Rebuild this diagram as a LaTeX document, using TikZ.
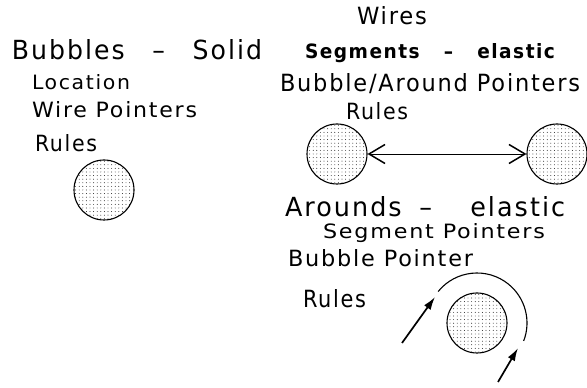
\documentclass[tikz,border=0pt]{standalone}
\usepackage{fontspec}
\setmainfont{DejaVu Sans}[LetterSpace=8]
\usepackage{graphicx}
\usetikzlibrary{arrows.meta,patterns.meta}
\newcommand\fittext[3]{\resizebox{#1pt}{#2pt}{#3}}
\begin{document}
\begin{tikzpicture}[x=1pt,y=1pt,
  lbl/.style={anchor=base west, inner sep=0pt, outer sep=0pt},
  bubble/.style={circle, draw, line width=1.1pt, minimum size=60pt, inner sep=0pt,
    pattern={Dots[distance=3.6pt, radius=0.45pt]}, pattern color=black},
  link/.style={line width=0.9pt,
    {Straight Barb[length=16pt,width=19pt,line width=1.5pt]}-{Straight Barb[length=16pt,width=19pt,line width=1.5pt]}},
  ptr/.style={line width=1.7pt, -{Latex[length=13pt,width=8pt]}},
  around/.style={line width=1.1pt}]
\fill[white] (0,0) rectangle (587,388);
\useasboundingbox (0,0) rectangle (587,388);
% texts
\node[lbl] (wires) at (357,363) {\fittext{70}{18}{Wires}};
\node[lbl] (bsolid) at (12,328) {\fittext{250}{20}{Bubbles\hspace{1.1em}–\hspace{1.1em}Solid}};
\node[lbl] (selastic) at (305,329) {\fittext{250}{15}{\bfseries Segments\hspace{1.3em}–\hspace{1.3em}elastic}};
\node[lbl] (loc) at (32,298) {\fittext{98}{15}{Location}};
\node[lbl] (bap) at (280,296) {\fittext{300}{18}{Bubble/Around Pointers}};
\node[lbl] (wp) at (32,270) {\fittext{165}{16}{Wire Pointers}};
\node[lbl] (rulesm) at (346,268) {\fittext{62}{17}{Rules}};
\node[lbl] (rulesl) at (35,236) {\fittext{62}{17}{Rules}};
\node[lbl] (aelastic) at (285,171) {\fittext{280}{20}{Arounds\hspace{0.7em}–\hspace{1.5em}elastic}};
\node[lbl] (sp) at (323,149) {\fittext{222}{15}{Segment Pointers}};
\node[lbl] (bp) at (288,121) {\fittext{185}{17}{Bubble Pointer}};
\node[lbl] (rulesb) at (303,80) {\fittext{63}{18}{Rules}};
% bubbles
\node[bubble] (A) at (104,198) {};
\node[bubble] (B) at (337,234) {};
\node[bubble] (C) at (557,234) {};
\node[bubble] (D) at (477,65) {};
% segment between bubbles
\draw[link] (B) -- (C);
% around
\draw[around] (D.center) ++(141:50) arc[start angle=141, end angle=-21, radius=50];
\coordinate (t1) at (402,45);
\coordinate (h1) at (435,91);
\coordinate (t2) at (498,6);
\coordinate (h2) at (518,40);
\draw[ptr] (t1) -- (h1);
\draw[ptr] (t2) -- (h2);
\end{tikzpicture}
\end{document}
